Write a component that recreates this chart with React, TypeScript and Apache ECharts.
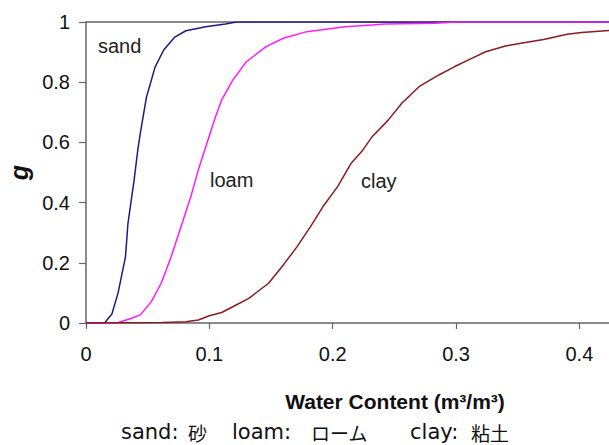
import React, { useEffect, useRef } from "react";
import * as echarts from "echarts";

const xTicks = [0, 0.1, 0.2, 0.3, 0.4];
const yTicks = [0, 0.2, 0.4, 0.6, 0.8, 1];

const sand: [number, number][] = [
  [0, 0], [0.015, 0], [0.021, 0.03], [0.026, 0.10], [0.032, 0.22], [0.034, 0.33],
  [0.039, 0.475], [0.042, 0.575], [0.044, 0.63], [0.049, 0.75], [0.056, 0.85],
  [0.063, 0.907], [0.072, 0.95], [0.081, 0.971], [0.097, 0.984], [0.113, 0.993],
  [0.122, 1], [0.424, 1],
];

const loam: [number, number][] = [
  [0, 0], [0.025, 0], [0.037, 0.016], [0.044, 0.027], [0.053, 0.071], [0.061, 0.132],
  [0.069, 0.22], [0.077, 0.32], [0.085, 0.42], [0.091, 0.508], [0.105, 0.685],
  [0.11, 0.741], [0.119, 0.807], [0.13, 0.868], [0.146, 0.918], [0.16, 0.946],
  [0.179, 0.968], [0.21, 0.984], [0.232, 0.99], [0.242, 0.993], [0.283, 0.996],
  [0.3, 1], [0.424, 1],
];

const clay: [number, number][] = [
  [0, 0], [0.062, 0.002], [0.081, 0.004], [0.091, 0.01], [0.1, 0.024], [0.11, 0.035],
  [0.119, 0.054], [0.132, 0.082], [0.148, 0.132], [0.16, 0.193], [0.171, 0.253],
  [0.182, 0.32], [0.192, 0.386], [0.204, 0.453], [0.215, 0.531], [0.2245, 0.575],
  [0.232, 0.619], [0.245, 0.674], [0.256, 0.73], [0.27, 0.785], [0.286, 0.824],
  [0.299, 0.852], [0.311, 0.876], [0.324, 0.901], [0.34, 0.92], [0.355, 0.931],
  [0.371, 0.942], [0.39, 0.959], [0.402, 0.965], [0.424, 0.972],
];

const curveLabels = [
  { text: "sand", x: 98, y: 46 },
  { text: "loam", x: 210, y: 180 },
  { text: "clay", x: 361, y: 181 },
];

const xAxisTitle = "Water Content (m³/m³)";
const yAxisTitle = "g";
const captionParts = [
  { text: "sand:", x: 121, cjk: false },
  { text: "砂", x: 188, cjk: true },
  { text: "loam:", x: 232, cjk: false },
  { text: "ローム", x: 311, cjk: true },
  { text: "clay:", x: 410, cjk: false },
  { text: "粘土", x: 471, cjk: true },
];

export default function App() {
  const ref = useRef<HTMLDivElement>(null);
  useEffect(() => {
    if (!ref.current) return;
    const chart = echarts.init(ref.current, null, { renderer: "svg" });
    const axisColor = "#666";
    const font = "'Liberation Sans', Arial, sans-serif";
    chart.setOption({
      animation: false,
      backgroundColor: "#fff",
      grid: { left: 86, top: 22, width: 523, height: 301, containLabel: false, outerBoundsMode: "none" },
      xAxis: [
        {
          type: "value",
          min: 0,
          max: 0.424,
          interval: 0.1,
          axisLine: { show: true, onZero: false, lineStyle: { color: axisColor, width: 1.5 } },
          axisTick: { show: true, length: 6, lineStyle: { color: axisColor, width: 1.2 } },
          splitLine: { show: false },
          axisLabel: {
            color: "#111",
            fontSize: 20,
            fontFamily: font,
            margin: 21,
            showMaxLabel: false,
            formatter: (v: number) => {
              const t = xTicks.find((k) => Math.abs(k - v) < 1e-6);
              return t === undefined ? "" : String(t);
            },
          },
        },
        {
          type: "value",
          position: "top",
          min: 0,
          max: 0.424,
          axisLine: { show: true, onZero: false, lineStyle: { color: axisColor, width: 1.5 } },
          axisTick: { show: false },
          axisLabel: { show: false },
          splitLine: { show: false },
        },
      ],
      yAxis: {
        type: "value",
        min: 0,
        max: 1,
        interval: 0.2,
        name: yAxisTitle,
        nameLocation: "middle",
        nameRotate: 90,
        nameGap: 52,
        nameTextStyle: { fontSize: 25, fontWeight: "bold", fontStyle: "italic", fontFamily: font, color: "#111" },
        axisLine: { show: true, lineStyle: { color: axisColor, width: 1.5 } },
        axisTick: { show: true, length: 7, lineStyle: { color: axisColor, width: 1.2 } },
        splitLine: { show: false },
        axisLabel: {
          color: "#111",
          fontSize: 20,
          fontFamily: font,
          margin: 16,
          formatter: (v: number) => {
            const t = yTicks.find((k) => Math.abs(k - v) < 1e-6);
            return t === undefined ? "" : String(t);
          },
        },
      },
      series: [
        { name: "sand", type: "line", data: sand, showSymbol: false, lineStyle: { color: "#1c1c84", width: 1.5 }, z: 3 },
        { name: "loam", type: "line", data: loam, showSymbol: false, lineStyle: { color: "#ff1aff", width: 1.5 }, z: 4 },
        { name: "clay", type: "line", data: clay, showSymbol: false, lineStyle: { color: "#8a1c1c", width: 1.5 }, z: 5 },
      ],
      graphic: [
        ...curveLabels.map((l) => ({
          type: "text",
          x: l.x,
          y: l.y,
          style: { text: l.text, fontSize: 20, fontFamily: font, fill: "#222", verticalAlign: "middle" },
        })),
        {
          type: "text",
          x: 395,
          y: 401,
          style: {
            text: xAxisTitle,
            fontSize: 21,
            fontWeight: "bold",
            fontFamily: font,
            fill: "#111",
            align: "center",
            verticalAlign: "middle",
          },
        },
        ...captionParts.map((p) => ({
          type: "text",
          x: p.x,
          y: 432,
          style: {
            text: p.text,
            fontSize: p.cjk ? 19 : 21,
            fontFamily: p.cjk ? "'Noto Sans CJK JP', sans-serif" : "'DejaVu Sans', Verdana, sans-serif",
            fill: "#111",
            verticalAlign: "middle",
          },
        })),
      ],
    });
    return () => chart.dispose();
  }, []);
  return <div ref={ref} style={{ position: "fixed", left: 0, top: 0, width: 609, height: 445 }} />;
}
